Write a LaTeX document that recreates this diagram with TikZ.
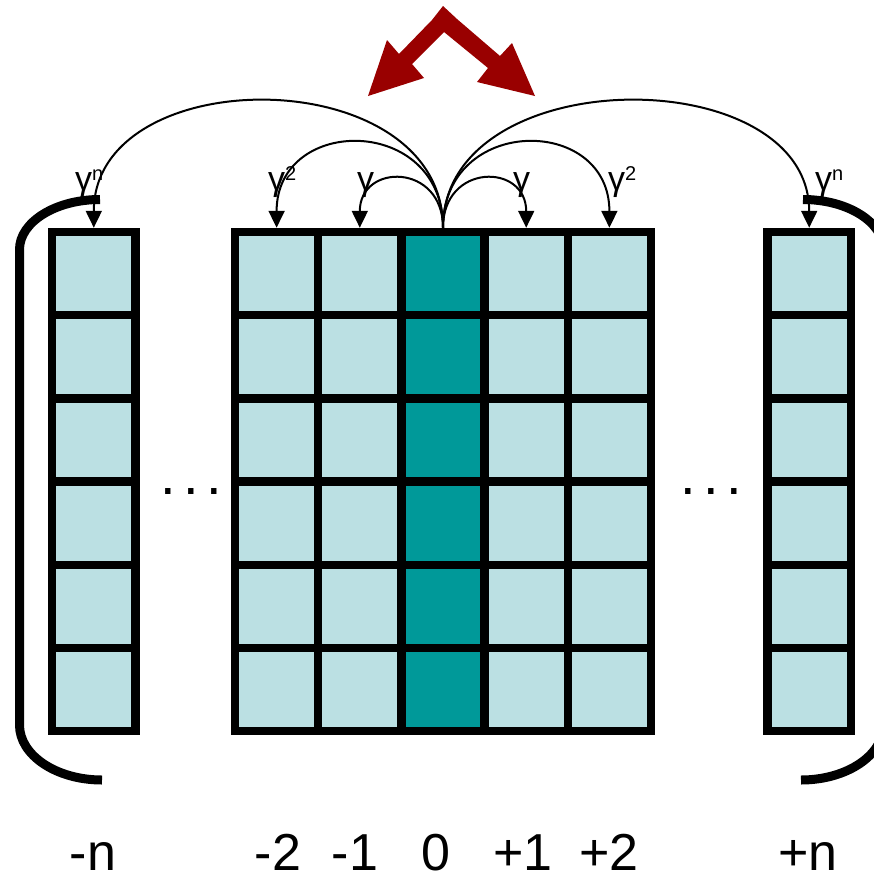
\documentclass[tikz,border=0pt]{standalone}
\usepackage{fontspec}
\setmainfont{Liberation Sans}
\usetikzlibrary{arrows.meta}
\definecolor{cellc}{HTML}{BBE0E3}
\definecolor{midc}{HTML}{009999}
\definecolor{redc}{HTML}{990000}
\newcommand{\supr}[1]{\raisebox{10.5pt}{\fontsize{20}{20}\selectfont #1}}
\begin{document}
\begin{tikzpicture}[x=1pt,y=-1pt,
 cell/.style={draw=black,line width=8.5pt,fill=cellc,minimum width=83.2pt,minimum height=83.2pt,inner sep=0pt,outer sep=4.25pt},
 midcell/.style={cell,fill=midc},
 arc/.style={line width=2pt,-{Triangle[length=17pt,width=16pt]}},
 brk/.style={line width=9pt},
 gam/.style={font=\fontsize{34}{34}\selectfont,inner sep=0pt,anchor=base west},
 idx/.style={font=\fontsize{52}{52}\selectfont,inner sep=0pt,anchor=base},
 dotsty/.style={font=\fontsize{56}{56}\selectfont,inner sep=0pt,anchor=base},
 ]
\useasboundingbox (0,0) rectangle (874,876);
\clip (0,0) rectangle (874,876);
% red arrow
\fill[redc] (443,6) -- (457,19) -- (500,56) -- (512,43) -- (535,96) -- (477,82) -- (488,68)
  -- (444,32) -- (412,64) -- (424,78) -- (368,96) -- (387,40) -- (399,54) -- (432,20) -- cycle;
% cells
\foreach \r in {0,...,5} {
  \foreach \c/\x in {0/276.6,1/359.8,3/526.2,4/609.4} {
    \node[cell] (m-\r-\c) at (\x,{273.6+83.2*\r}) {};
  }
  \node[midcell] (m-\r-2) at (443,{273.6+83.2*\r}) {};
  \node[cell] (l-\r) at (93.8,{273.6+83.2*\r}) {};
  \node[cell] (r-\r) at (809.2,{273.6+83.2*\r}) {};
}
% arcs
\draw[arc] (m-0-2.north) .. controls +(0,-65) and +(0,-65) .. (m-0-1.north);
\draw[arc] (m-0-2.north) .. controls +(0,-65) and +(0,-65) .. (m-0-3.north);
\draw[arc] (m-0-2.north) .. controls +(0,-113) and +(0,-113) .. (m-0-0.north);
\draw[arc] (m-0-2.north) .. controls +(0,-113) and +(0,-113) .. (m-0-4.north);
\draw[arc] (m-0-2.north) .. controls +(0,-168) and +(0,-168) .. (l-0.north);
\draw[arc] (m-0-2.north) .. controls +(0,-168) and +(0,-168) .. (r-0.north);
% gamma labels
\node[gam] (g1l) at (357,190.5) {γ};
\node[gam] (g1r) at (513,190.5) {γ};
\node[gam] (g2l) at (268,190.5) {γ\supr{2}};
\node[gam] (g2r) at (608,190.5) {γ\supr{2}};
\node[gam] (gnl) at (75,190.5) {γ\supr{n}};
\node[gam] (gnr) at (815,190.5) {γ\supr{n}};
% brackets
\draw[brk] (100,199.5) .. controls (55.6,199.5) and (19.5,222) .. (19.5,249.5) -- (19.5,725)
  .. controls (19.5,755.4) and (56.5,780) .. (102,780);
\draw[brk] (803,199.5) .. controls (847.4,199.5) and (883.5,222) .. (883.5,249.5) -- (883.5,725)
  .. controls (883.5,755.4) and (846.5,780) .. (801,780);
% dots
\node[dotsty] (dl) at (191.5,494) {.\kern7.4pt.\kern7.4pt.};
\node[dotsty] (dr) at (711.5,494) {.\kern7.4pt.\kern7.4pt.};
% index labels
\node[idx] (in) at (93,870) {-n};
\node[idx] (i2) at (278,870) {-2};
\node[idx] (i1) at (355,870) {-1};
\node[idx] (i0) at (436,870) {0};
\node[idx] (p1) at (523,870) {+1};
\node[idx] (p2) at (609,870) {+2};
\node[idx] (pn) at (808,870) {+n};
\end{tikzpicture}
\end{document}
